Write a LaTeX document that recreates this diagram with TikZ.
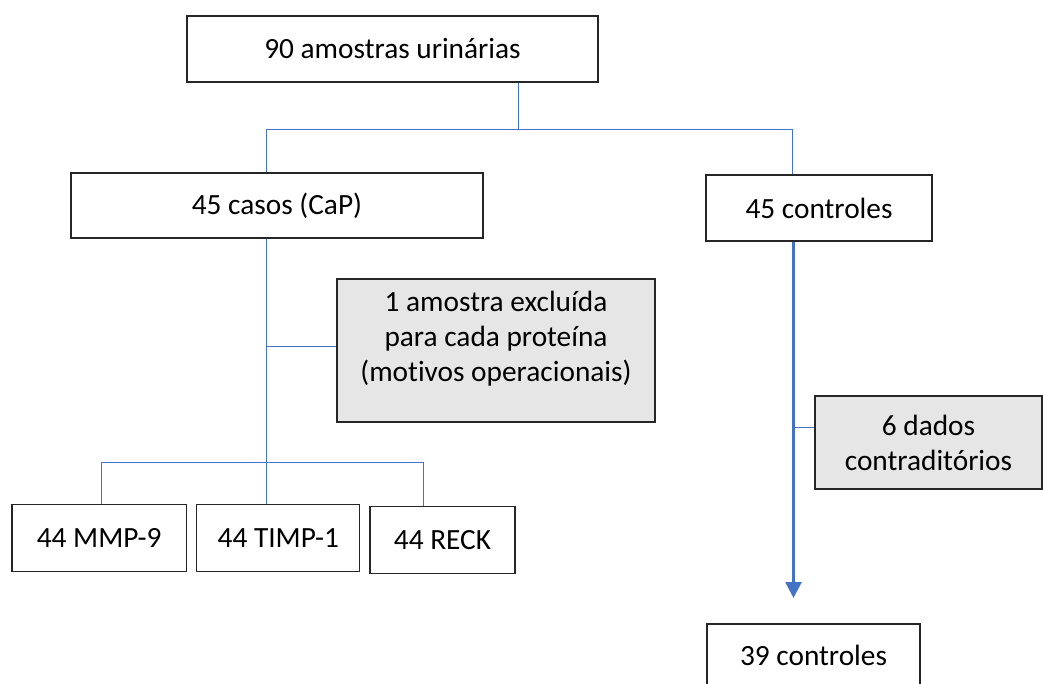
\documentclass[tikz,border=0pt]{standalone}
\usepackage{fontspec}
\setmainfont{Carlito}[Ligatures=NoCommon]
\usetikzlibrary{arrows.meta}
\definecolor{lineblue}{HTML}{4472C4}
\definecolor{boxgray}{HTML}{E6E6E6}
\begin{document}
\begin{tikzpicture}[x=0.75pt,y=-0.75pt,font=\fontsize{22}{26.3}\selectfont]
\tikzstyle{box}=[draw=black!85,line width=0.9pt,inner sep=0pt,align=center]
\tikzstyle{gbox}=[box,fill=boxgray]
\tikzstyle{conn}=[lineblue,line width=0.75pt]
\tikzstyle{arr}=[lineblue,line width=2pt,-{Triangle[width=12pt,length=12pt]}]
\useasboundingbox (0,0) rectangle (1043,684);
\clip (0,0) rectangle (1043,684);
\node[box,minimum width=308.3pt,minimum height=49.5pt] (total) at (392.5,49) {90 amostras urinárias};
\node[box,minimum width=309pt,minimum height=48.8pt] (casos) at (277,205.5) {45 casos (CaP)};
\node[box,minimum width=169.5pt,minimum height=49.5pt] (controles) at (819,208) {45 controles};
\node[gbox,minimum width=238.5pt,minimum height=107.3pt] (excl) at (496,350.5) {};
\node[align=center,inner sep=0pt] (excltxt) at (496,339) {1 amostra excluída\\para cada proteína\\(motivos operacionais)};
\node[gbox,minimum width=170.3pt,minimum height=69.8pt] (dados) at (928.5,442.5) {6 dados\\contraditórios};
\node[box,minimum width=130.9pt,minimum height=49.9pt] (mmp) at (99.2,538) {44 MMP-9};
\node[box,minimum width=122.3pt,minimum height=49.9pt] (timp) at (278.3,538) {44 TIMP-1};
\node[box,minimum width=108.8pt,minimum height=49.9pt] (reck) at (442.5,540) {44 RECK};
\node[box,minimum width=159.8pt,minimum height=46.5pt] (final) at (813.5,655) {39 controles};
\coordinate (j0) at (518,130);
\coordinate (jl) at (266,130);
\coordinate (jr) at (792.6,130);
\coordinate (jx) at (266,347);
\coordinate (jb) at (266,462);
\coordinate (b1) at (101,462);
\coordinate (b3) at (423,462);
\coordinate (jd) at (793.5,427);
\coordinate (ae) at (793.5,598);
\draw[conn] (total.south -| j0) -- (j0);
\draw[conn] (casos.north -| jl) -- (jl) -- (jr) -- (controles.north -| jr);
\draw[conn] (casos.south -| jb) -- (jb);
\draw[conn] (jx) -- (jx -| excl.west);
\draw[conn] (mmp.north -| b1) -- (b1) -- (b3) -- (reck.north -| b3);
\draw[conn] (jb) -- (timp.north -| jb);
\draw[arr] (controles.south -| ae) -- (ae);
\draw[conn] (jd) -- (jd -| dados.west);
\end{tikzpicture}
\end{document}
